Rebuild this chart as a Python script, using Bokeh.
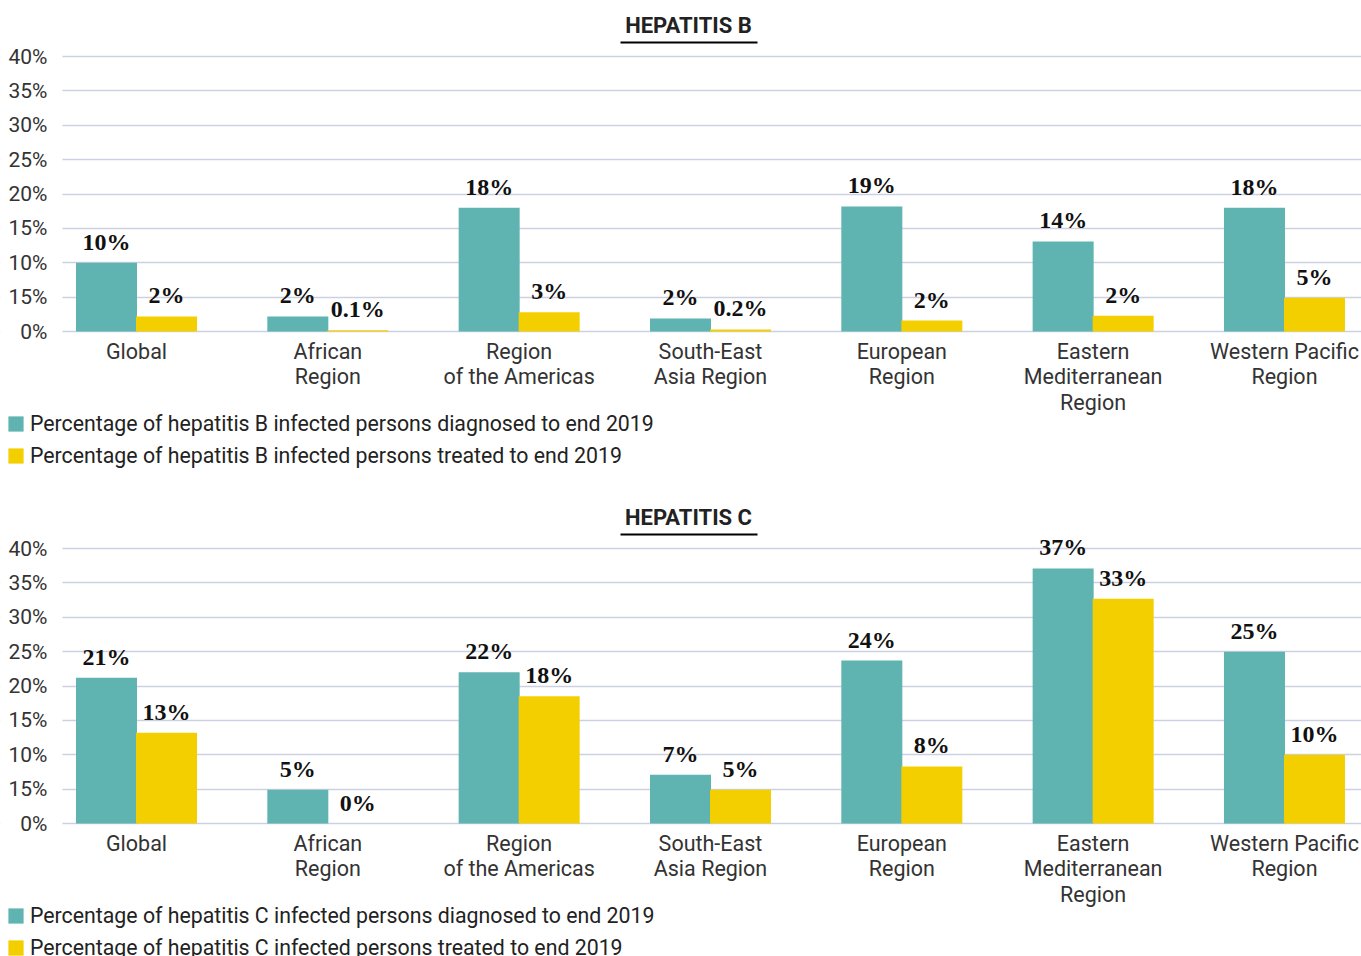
from bokeh.plotting import figure
from bokeh.models import (ColumnDataSource, Range1d, FixedTicker, LabelSet, Label,
                          Legend, LegendItem, Arrow, BoxAnnotation)
from bokeh.layouts import column
from bokeh.embed import file_html
from bokeh.resources import INLINE

# ---------------- data ----------------
regions = ["Global", "African\nRegion", "Region\nof the Americas", "South-East\nAsia Region",
           "European\nRegion", "Eastern\nMediterranean\nRegion", "Western Pacific\nRegion"]

hbv_diagnosed = [10.0, 2.2, 18.0, 1.9, 18.2, 13.1, 18.0]
hbv_treated = [2.2, 0.2, 2.8, 0.3, 1.6, 2.3, 4.9]
hbv_diagnosed_labels = ["10%", "2%", "18%", "2%", "19%", "14%", "18%"]
hbv_treated_labels = ["2%", "0.1%", "3%", "0.2%", "2%", "2%", "5%"]

hcv_diagnosed = [21.2, 4.9, 22.0, 7.1, 23.7, 37.1, 25.0]
hcv_treated = [13.2, 0.0, 18.5, 4.9, 8.3, 32.7, 10.0]
hcv_diagnosed_labels = ["21%", "5%", "22%", "7%", "24%", "37%", "25%"]
hcv_treated_labels = ["13%", "0%", "18%", "5%", "8%", "33%", "10%"]

y_ticks = [0, 5, 10, 15, 20, 25, 30, 35, 40]
y_tick_labels = ["0%", "15%", "10%", "15%", "20%", "25%", "30%", "35%", "40%"]

hbv_legend = ["Percentage of hepatitis B infected persons diagnosed to end 2019",
              "Percentage of hepatitis B infected persons treated to end 2019"]
hcv_legend = ["Percentage of hepatitis C infected persons diagnosed to end 2019",
              "Percentage of hepatitis C infected persons treated to end 2019"]

# ---------------- style ----------------
TEAL = "#5fb3b0"
YELLOW = "#f4cf00"
GRID = "#cbd1e2"
SANS = "Roboto"
SERIF = "Liberation Serif"

PX_PER_PCT = 275 / 40.0      # 40 % spans 275 px
PX_PER_CAT = 191.33          # distance between category centres
WIDTH = 1361
FIRST_CENTER = 136           # px of the first category centre
X_START = -FIRST_CENTER / PX_PER_CAT
X_END = X_START + WIDTH / PX_PER_CAT
Y_AXIS_X = -(FIRST_CENTER - 62) / PX_PER_CAT   # plot area starts 62 px from the left
BAR_W = 61 / PX_PER_CAT
OFF = 30 / PX_PER_CAT


def px_x(px):
    return X_START + px / PX_PER_CAT


def make_chart(title, diag, treat, diag_lbl, treat_lbl, legend_labels,
               height, zero_from_top, legend_y):
    n = len(regions)
    x = list(range(n))
    src_d = ColumnDataSource(dict(x=[i - OFF for i in x], y=diag, t=diag_lbl))
    src_t = ColumnDataSource(dict(x=[i + OFF for i in x], y=treat, t=treat_lbl))

    y_top = zero_from_top / PX_PER_PCT
    y_bot = -(height - zero_from_top) / PX_PER_PCT

    p = figure(width=WIDTH, height=height, output_backend="svg", toolbar_location=None,
               x_range=Range1d(X_START, X_END), y_range=Range1d(y_bot, y_top),
               min_border_left=0, min_border_right=0, min_border_top=0,
               min_border_bottom=0)
    p.outline_line_color = None
    p.background_fill_color = "white"
    p.border_fill_color = "white"

    # grid lines start where the plot area starts
    p.xgrid.grid_line_color = None
    p.ygrid.grid_line_color = GRID
    p.ygrid.grid_line_width = 1.5
    p.add_layout(BoxAnnotation(right=Y_AXIS_X, fill_color="white", fill_alpha=1.0,
                               line_color=None, level="underlay"))

    r_d = p.vbar(x="x", top="y", bottom=0, width=BAR_W, source=src_d,
                 fill_color=TEAL, line_color=None)
    r_t = p.vbar(x="x", top="y", bottom=0, width=BAR_W, source=src_t,
                 fill_color=YELLOW, line_color=None)

    for src in (src_d, src_t):
        p.add_layout(LabelSet(x="x", y="y", text="t", source=src, y_offset=13,
                              text_align="center", text_baseline="alphabetic",
                              text_font=SERIF, text_font_style="bold",
                              text_font_size="24px", text_color="#111111"))

    # axes, pinned to the data (x at 0 %, y at the plot area's left edge)
    p.yaxis.ticker = FixedTicker(ticks=y_ticks)
    p.yaxis.major_label_overrides = {t: l for t, l in zip(y_ticks, y_tick_labels)}
    p.yaxis.fixed_location = Y_AXIS_X
    p.xaxis.ticker = FixedTicker(ticks=x)
    p.xaxis.major_label_overrides = {i: r for i, r in zip(x, regions)}
    p.xaxis.fixed_location = 0
    for ax in (p.xaxis, p.yaxis):
        ax.axis_line_color = None
        ax.major_tick_line_color = None
        ax.minor_tick_line_color = None
        ax.major_tick_out = 0
        ax.major_tick_in = 0
        ax.major_label_text_font = SANS
        ax.major_label_text_color = "#333333"
    p.yaxis.major_label_text_font_size = "21px"
    p.yaxis.major_label_standoff = 15
    p.xaxis.major_label_text_font_size = "21.5px"
    p.xaxis.major_label_text_line_height = 1.02
    p.xaxis.major_label_standoff = 7

    # title with underline
    p.add_layout(Label(x=px_x(688), y=40, y_offset=31, text=title, text_align="center",
                       text_baseline="middle", text_font=SANS, text_font_style="bold",
                       text_font_size="22px", text_color="#222222"))
    ul_y = 40 + 14 / PX_PER_PCT
    p.add_layout(Arrow(end=None, start=None, x_start=px_x(620), y_start=ul_y,
                       x_end=px_x(757), y_end=ul_y, line_color="black", line_width=2))

    legend = Legend(items=[LegendItem(label=legend_labels[0], renderers=[r_d]),
                           LegendItem(label=legend_labels[1], renderers=[r_t])],
                    location=(6, legend_y), orientation="vertical",
                    glyph_width=19, glyph_height=19, label_height=26, label_standoff=5,
                    spacing=6, padding=0, margin=0, border_line_color=None,
                    background_fill_alpha=0, label_text_font=SANS,
                    label_text_font_size="21.3px", label_text_color="#222222")
    p.add_layout(legend)
    return p


c1 = make_chart("HEPATITIS B", hbv_diagnosed, hbv_treated, hbv_diagnosed_labels,
                hbv_treated_labels, hbv_legend, 500, 331, 32)
c2 = make_chart("HEPATITIS C", hcv_diagnosed, hcv_treated, hcv_diagnosed_labels,
                hcv_treated_labels, hcv_legend, 456, 323, -4)

layout = column(c1, c2, spacing=0)
open("out.html", "w").write(file_html(layout, INLINE))
